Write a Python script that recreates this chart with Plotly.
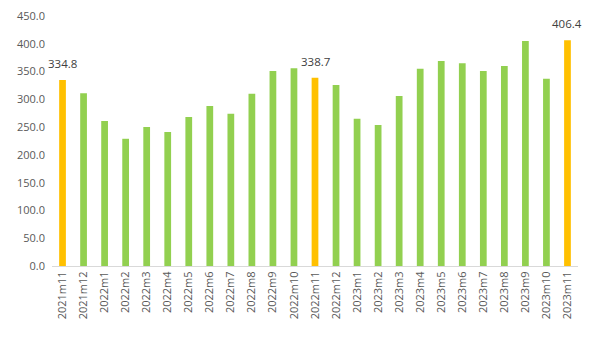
import plotly.graph_objects as go

categories = ["2021m11", "2021m12", "2022m1", "2022m2", "2022m3", "2022m4", "2022m5",
              "2022m6", "2022m7", "2022m8", "2022m9", "2022m10", "2022m11", "2022m12",
              "2023m1", "2023m2", "2023m3", "2023m4", "2023m5", "2023m6", "2023m7",
              "2023m8", "2023m9", "2023m10", "2023m11"]
values = [334.8, 311, 261, 229, 250, 241, 268, 288, 274, 310, 351, 356, 338.7, 326,
          265, 254, 306, 355, 369, 365, 351, 360, 405, 337, 406.4]
highlight = ["2021m11", "2022m11", "2023m11"]

colors = ["#FFC000" if c in highlight else "#92D050" for c in categories]

fig = go.Figure(go.Bar(
    x=categories, y=values, marker_color=colors, marker_line_width=0,
))
for c, v in zip(categories, values):
    if c in highlight:
        fig.add_annotation(x=c, y=v, text=f"{v:.1f}", showarrow=False,
                           yanchor="bottom", yshift=7,
                           font=dict(family="Open Sans, sans-serif", size=11.5, color="#404040"))
fig.update_layout(
    width=600, height=345, margin=dict(l=52, r=22, t=16, b=79, autoexpand=False),
    paper_bgcolor="white", plot_bgcolor="white", bargap=0.68, showlegend=False,
    font=dict(family="Open Sans, sans-serif", size=11, color="#595959"),
)
fig.update_yaxes(range=[0, 450], dtick=50, tickformat=".1f", showgrid=False,
                 zeroline=False, showline=False, ticks="", ticklabelstandoff=6,
                 automargin=False)
fig.update_xaxes(tickangle=-90, showline=True, linecolor="#D9D9D9", linewidth=1,
                 ticks="", showgrid=False, automargin=False,
                 range=[-0.5, len(categories) - 0.5])
fig.write_html("out.html")
